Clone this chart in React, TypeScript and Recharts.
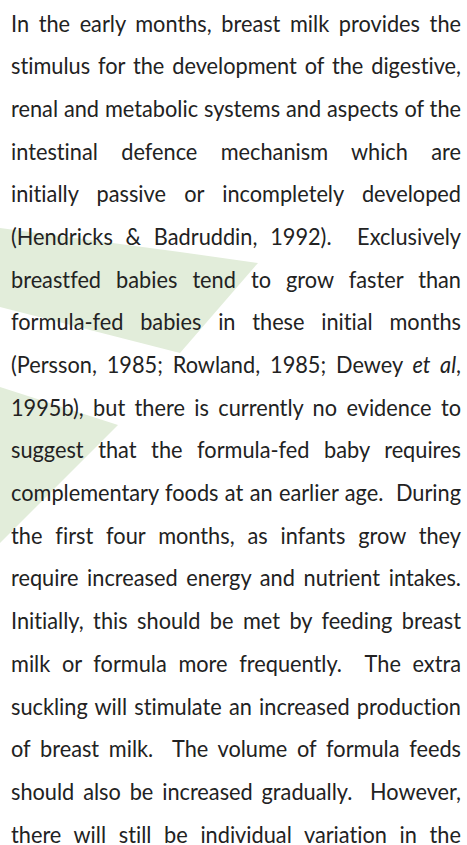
import { ComposedChart, Area, XAxis, YAxis } from "recharts";

const W = 467;
const H = 845;

// background leaves: x across the page, top / bottom edge (px from the top)
const leafAX = [0, 180, 258];
const leafATop = [228, 252, 263];
const leafABottom = [307, 353, 263];

const leafBX = [0, 118];
const leafBTop = [387, 425];
const leafBBottom = [543, 425];

// one entry per printed line, *...* = italic
const lines = [
  "In the early months, breast milk provides the",
  "stimulus for the development of the digestive,",
  "renal and metabolic systems and aspects of the",
  "intestinal defence mechanism which are",
  "initially passive or incompletely developed",
  "(Hendricks & Badruddin, 1992).  Exclusively",
  "breastfed babies tend to grow faster than",
  "formula-fed babies in these initial months",
  "(Persson, 1985; Rowland, 1985; Dewey *et al*,",
  "1995b), but there is currently no evidence to",
  "suggest that the formula-fed baby requires",
  "complementary foods at an earlier age.  During",
  "the first four months, as infants grow they",
  "require increased energy and nutrient intakes.",
  "Initially, this should be met by feeding breast",
  "milk or formula more frequently.  The extra",
  "suckling will stimulate an increased production",
  "of breast milk.  The volume of formula feeds",
  "should also be increased gradually.  However,",
  "there will still be individual variation in the",
];

const leafA = leafAX.map((x, i) => ({ x, edge: [leafATop[i], leafABottom[i]] }));
const leafB = leafBX.map((x, i) => ({ x, edge: [leafBTop[i], leafBBottom[i]] }));

const FONT_SIZE = 23;
const FONT = "Lato";
const TEXT_W = 450;

function squeeze() {
  const ctx = document.createElement("canvas").getContext("2d");
  if (!ctx) return 1;
  ctx.font = `${FONT_SIZE}px ${FONT}`;
  const widest = Math.max(...lines.map((l) => ctx.measureText(l.replace(/\*/g, "")).width));
  return Math.min(1, (TEXT_W - 2) / widest);
}

function Line({ text }: { text: string }) {
  const parts = text.split("*");
  return (
    <div style={{ textAlign: "justify", textAlignLast: "justify", whiteSpace: "pre-wrap", height: 42.7 }}>
      {parts.map((p, i) => (i % 2 ? <i key={i}>{p}</i> : <span key={i}>{p}</span>))}
    </div>
  );
}

export default function App() {
  const k = squeeze();
  return (
    <div style={{ position: "absolute", top: 0, left: 0, width: W, height: H, background: "#fff", overflow: "hidden" }}>
      <ComposedChart width={W} height={H} margin={{ top: 0, right: 0, bottom: 0, left: 0 }}>
        <XAxis type="number" dataKey="x" domain={[0, W]} hide allowDataOverflow />
        <YAxis type="number" domain={[0, H]} reversed hide allowDataOverflow />
        <Area data={leafA} dataKey="edge" type="linear" stroke="none" fill="#e2edda" fillOpacity={1} dot={false} activeDot={false} isAnimationActive={false} />
        <Area data={leafB} dataKey="edge" type="linear" stroke="none" fill="#e2edda" fillOpacity={1} dot={false} activeDot={false} isAnimationActive={false} />
      </ComposedChart>
      <div
        style={{
          position: "absolute",
          top: 1.5,
          left: 11,
          width: TEXT_W / k,
          transform: `scaleX(${k})`,
          transformOrigin: "0 0",
          fontFamily: FONT,
          fontSize: FONT_SIZE,
          lineHeight: "42.7px",
          color: "#222",
          fontVariantLigatures: "none",
        }}
      >
        {lines.map((l, i) => (
          <Line key={i} text={l} />
        ))}
      </div>
    </div>
  );
}
